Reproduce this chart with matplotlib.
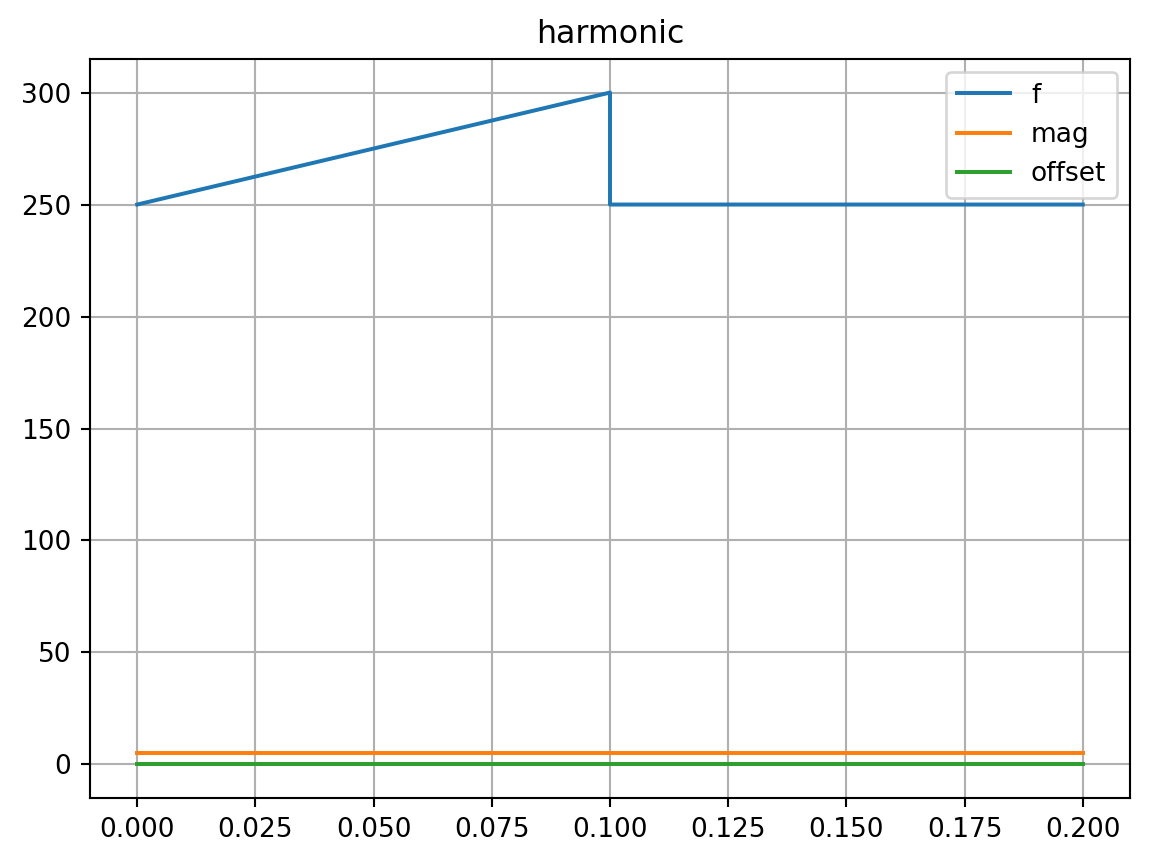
import matplotlib
matplotlib.use("Agg")
import matplotlib.pyplot as plt

# time breakpoints and the piecewise values of each signal
t = [0.0, 0.1, 0.1, 0.2]
f_vals = [250, 300, 250, 250]
mag_vals = [5, 5, 5, 5]
offset_vals = [0, 0, 0, 0]

fig, ax = plt.subplots(figsize=(1149 / 190, 862 / 190), dpi=190)
ax.plot(t, f_vals, label="f")
ax.plot(t, mag_vals, label="mag")
ax.plot(t, offset_vals, label="offset")
ax.set_title("harmonic")
ax.legend(loc="upper right")
ax.grid(True)
fig.subplots_adjust(left=0.0783, right=0.9835, top=0.9316, bottom=0.0742)
plt.savefig("out.png")
